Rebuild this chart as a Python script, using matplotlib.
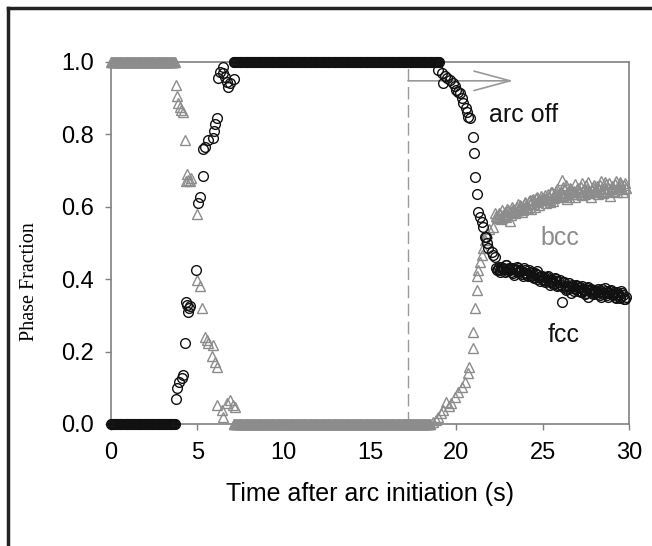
import numpy as np
import matplotlib
matplotlib.use("Agg")
import matplotlib.pyplot as plt
from matplotlib.lines import Line2D

# ---------------- data ----------------
# plateau segments (sampled every 0.05 s)
early_t = np.round(np.arange(0.0, 3.72, 0.05), 2)          # bcc = 1, fcc = 0
mid_fcc_t = np.round(np.arange(7.1, 19.02, 0.05), 2)       # fcc = 1
mid_bcc_t = np.round(np.arange(7.1, 18.52, 0.05), 2)       # bcc = 0

# first transition (heating)
bcc_tr1_t = [3.76, 3.84, 3.90, 4.00, 4.08, 4.17, 4.27, 4.37, 4.40, 4.47, 4.55, 4.62,
             4.96, 5.00, 5.15, 5.28, 5.44, 5.55, 5.63, 5.83, 5.92, 6.02, 6.12, 6.12,
             6.40, 6.50, 6.70, 6.89, 7.08, 7.18]
bcc_tr1_f = [0.936, 0.906, 0.886, 0.875, 0.868, 0.862, 0.785, 0.670, 0.690, 0.675, 0.672, 0.680,
             0.580, 0.398, 0.380, 0.320, 0.240, 0.232, 0.223, 0.188, 0.218, 0.172, 0.158, 0.052,
             0.039, 0.020, 0.057, 0.066, 0.052, 0.048]
fcc_tr1_t = [3.76, 3.84, 3.95, 4.09, 4.19, 4.28, 4.34, 4.40, 4.50, 4.60, 4.45, 4.92,
             5.06, 5.15, 5.30, 5.33, 5.45, 5.60, 5.90, 5.95, 6.05, 6.12,
             6.46, 6.31, 6.50, 6.21, 6.60, 6.70, 6.89, 7.12, 6.79]
fcc_tr1_f = [0.068, 0.099, 0.117, 0.127, 0.135, 0.223, 0.338, 0.330, 0.320, 0.325, 0.310, 0.425,
             0.610, 0.628, 0.685, 0.760, 0.765, 0.785, 0.790, 0.810, 0.830, 0.845,
             0.985, 0.973, 0.969, 0.955, 0.958, 0.946, 0.941, 0.952, 0.932]

# second transition (after arc off)
fcc_tr2_t = [18.95, 19.15, 19.24, 19.34, 19.45, 19.63, 19.82, 19.90, 20.0, 20.1, 20.2, 20.3,
             20.4, 20.55, 20.63, 20.69, 20.79, 20.98, 21.02, 21.08, 21.17, 21.26, 21.37, 21.46,
             21.56, 21.66, 21.71, 21.75, 21.85, 22.04, 22.13, 22.23]
fcc_tr2_f = [0.978, 0.969, 0.941, 0.960, 0.955, 0.950, 0.941, 0.935, 0.923, 0.918, 0.914, 0.900,
             0.886, 0.872, 0.863, 0.849, 0.845, 0.794, 0.750, 0.683, 0.635, 0.586, 0.573, 0.559,
             0.545, 0.517, 0.517, 0.499, 0.485, 0.476, 0.467, 0.462]
bcc_tr2_t = [18.66, 18.80, 18.95, 19.10, 19.24, 19.43, 19.55, 19.72, 19.92, 20.11, 20.30, 20.50,
             20.69, 20.75, 20.94, 20.98, 21.08, 21.17, 21.20, 21.26, 21.37, 21.46, 21.56, 21.66,
             21.75, 21.90, 22.13, 22.23]
bcc_tr2_f = [0.006, 0.012, 0.020, 0.030, 0.039, 0.062, 0.050, 0.057, 0.075, 0.089, 0.103, 0.117,
             0.140, 0.158, 0.209, 0.255, 0.320, 0.370, 0.410, 0.425, 0.448, 0.467, 0.485, 0.508,
             0.527, 0.540, 0.545, 0.582]

# cooled tail (two interleaved read-outs)
tail_t = np.round(np.arange(22.3, 29.85, 0.1), 2)
bcc_tail = [0.575, 0.570, 0.580, 0.565, 0.578, 0.585, 0.572, 0.590,
            0.560, 0.588, 0.595, 0.582, 0.600, 0.590, 0.605, 0.585, 0.598, 0.610,
            0.600, 0.615, 0.595, 0.620, 0.608, 0.625, 0.612, 0.605, 0.630, 0.618,
            0.625, 0.610, 0.635, 0.620, 0.640, 0.615, 0.632, 0.645, 0.628, 0.638,
            0.674, 0.630, 0.648, 0.622, 0.640, 0.652, 0.635, 0.645, 0.628, 0.650,
            0.640, 0.655, 0.632, 0.648, 0.660, 0.638, 0.645, 0.628, 0.655, 0.642,
            0.650, 0.635, 0.660, 0.645, 0.638, 0.668, 0.640, 0.652, 0.630, 0.658,
            0.645, 0.662, 0.640, 0.655, 0.668, 0.648, 0.660, 0.652]
fcc_tail = [0.432, 0.428, 0.425, 0.435, 0.430, 0.420, 0.438, 0.428,
            0.425, 0.432, 0.418, 0.428, 0.435, 0.420, 0.425, 0.415, 0.430, 0.418,
            0.412, 0.425, 0.408, 0.418, 0.402, 0.415, 0.422, 0.405, 0.410, 0.398,
            0.405, 0.395, 0.410, 0.392, 0.400, 0.388, 0.402, 0.395, 0.385, 0.398,
            0.337, 0.392, 0.380, 0.372, 0.390, 0.378, 0.385, 0.368, 0.375, 0.382,
            0.375, 0.365, 0.380, 0.370, 0.362, 0.378, 0.368, 0.372, 0.358, 0.370,
            0.365, 0.372, 0.355, 0.368, 0.360, 0.375, 0.362, 0.352, 0.368, 0.358,
            0.360, 0.350, 0.365, 0.355, 0.348, 0.362, 0.345, 0.352]
tail2_t = np.round(np.arange(22.35, 29.8, 0.1), 2)
bcc_tail2 = [0.572, 0.582, 0.568, 0.590, 0.575, 0.580, 0.595,
             0.585, 0.578, 0.600, 0.592, 0.585, 0.608, 0.595, 0.602, 0.590, 0.612,
             0.605, 0.598, 0.618, 0.610, 0.622, 0.600, 0.628, 0.615, 0.620, 0.625,
             0.618, 0.632, 0.622, 0.628, 0.612, 0.642, 0.625, 0.635, 0.648, 0.630,
             0.640, 0.655, 0.632, 0.660, 0.638, 0.628, 0.650, 0.642, 0.662, 0.635,
             0.652, 0.640, 0.665, 0.645, 0.635, 0.650, 0.668, 0.640, 0.648, 0.660,
             0.642, 0.658, 0.648, 0.670, 0.640, 0.652, 0.662, 0.645, 0.665, 0.650,
             0.655, 0.645, 0.670, 0.650, 0.662, 0.658, 0.642, 0.665]
fcc_tail2 = [0.425, 0.435, 0.420, 0.430, 0.428, 0.440, 0.422,
             0.430, 0.420, 0.428, 0.412, 0.425, 0.432, 0.418, 0.422, 0.410, 0.425,
             0.418, 0.408, 0.420, 0.412, 0.405, 0.418, 0.400, 0.412, 0.395, 0.408,
             0.400, 0.392, 0.405, 0.398, 0.385, 0.395, 0.390, 0.400, 0.382, 0.392,
             0.385, 0.378, 0.392, 0.370, 0.382, 0.375, 0.362, 0.380, 0.372, 0.385,
             0.368, 0.378, 0.365, 0.372, 0.360, 0.375, 0.352, 0.370, 0.365, 0.362,
             0.370, 0.358, 0.365, 0.350, 0.372, 0.362, 0.368, 0.355, 0.362, 0.370,
             0.355, 0.365, 0.348, 0.360, 0.352, 0.368, 0.355, 0.345]

arc_off_t = 17.2
xticks = [0, 5, 10, 15, 20, 25, 30]
yticks = [0.0, 0.2, 0.4, 0.6, 0.8, 1.0]

# assemble series
bcc_t = np.concatenate([early_t, bcc_tr1_t, mid_bcc_t, bcc_tr2_t, tail_t, tail2_t])
bcc_f = np.concatenate([np.ones(len(early_t)), bcc_tr1_f, np.zeros(len(mid_bcc_t)),
                        bcc_tr2_f, bcc_tail, bcc_tail2])
fcc_t = np.concatenate([early_t, fcc_tr1_t, mid_fcc_t, fcc_tr2_t, tail_t, tail2_t])
fcc_f = np.concatenate([np.zeros(len(early_t)), fcc_tr1_f, np.ones(len(mid_fcc_t)),
                        fcc_tr2_f, fcc_tail, fcc_tail2])

# ---------------- plot ----------------
plt.rcParams['font.family'] = ['Liberation Sans', 'DejaVu Sans']
fig = plt.figure(figsize=(6.52, 5.46), dpi=100)
ax = fig.add_axes([111/652, 1-424/546, (629-111)/652, (424-62)/546])

gray = '#8c8c8c'
ax.plot(bcc_t, bcc_f, linestyle='none', marker='^', markersize=6.5, markerfacecolor='none',
        markeredgecolor=gray, markeredgewidth=1.0, clip_on=False, zorder=3)
ax.plot(fcc_t, fcc_f, linestyle='none', marker='o', markersize=7, markerfacecolor='none',
        markeredgecolor='#111111', markeredgewidth=1.0, clip_on=False, zorder=4)

ax.plot([arc_off_t, arc_off_t], [0, 0.985], color='#999999', lw=1.0, dashes=(9, 4), zorder=2)
ax.annotate('', xy=(23.3, 0.948), xytext=(arc_off_t, 0.948),
            arrowprops=dict(arrowstyle='->, head_length=1.3, head_width=0.35',
                            color='#999999', lw=1.2, mutation_scale=20, shrinkA=0, shrinkB=0))

ax.text(21.9, 0.853, 'arc off', fontsize=18, color='#111111', va='center', ha='left')
ax.text(24.9, 0.515, 'bcc', fontsize=18, color=gray, va='center', ha='left')
ax.text(25.3, 0.245, 'fcc', fontsize=18, color='#111111', va='center', ha='left')

ax.set_xlim(0, 30)
ax.set_ylim(0, 1.0)
ax.set_xticks(xticks)
ax.set_yticks(yticks)
ax.set_xticklabels([str(v) for v in xticks], fontsize=17)
ax.set_yticklabels([f'{v:.1f}' for v in yticks], fontsize=17)
for s in ax.spines.values():
    s.set_color('#808080')
    s.set_linewidth(1.2)
ax.tick_params(axis='x', direction='out', length=4, width=1.0, color='#808080', pad=9)
ax.tick_params(axis='y', direction='out', length=4, width=1.0, color='#808080', pad=8)

ax.set_xlabel('Time after arc initiation (s)', fontsize=18, labelpad=13)
fig.text(30/652, 1-282/546, 'Phase Fraction', rotation=90, fontsize=14.5,
         family=['Liberation Serif', 'DejaVu Serif'], ha='center', va='center')

# outer frame (left and top)
fig.add_artist(Line2D([8/652, 8/652], [0, 1-8/546], transform=fig.transFigure, color='#222222', lw=2.5))
fig.add_artist(Line2D([8/652, 1], [1-8/546, 1-8/546], transform=fig.transFigure, color='#222222', lw=2.5))

fig.savefig('out.png', dpi=100)
